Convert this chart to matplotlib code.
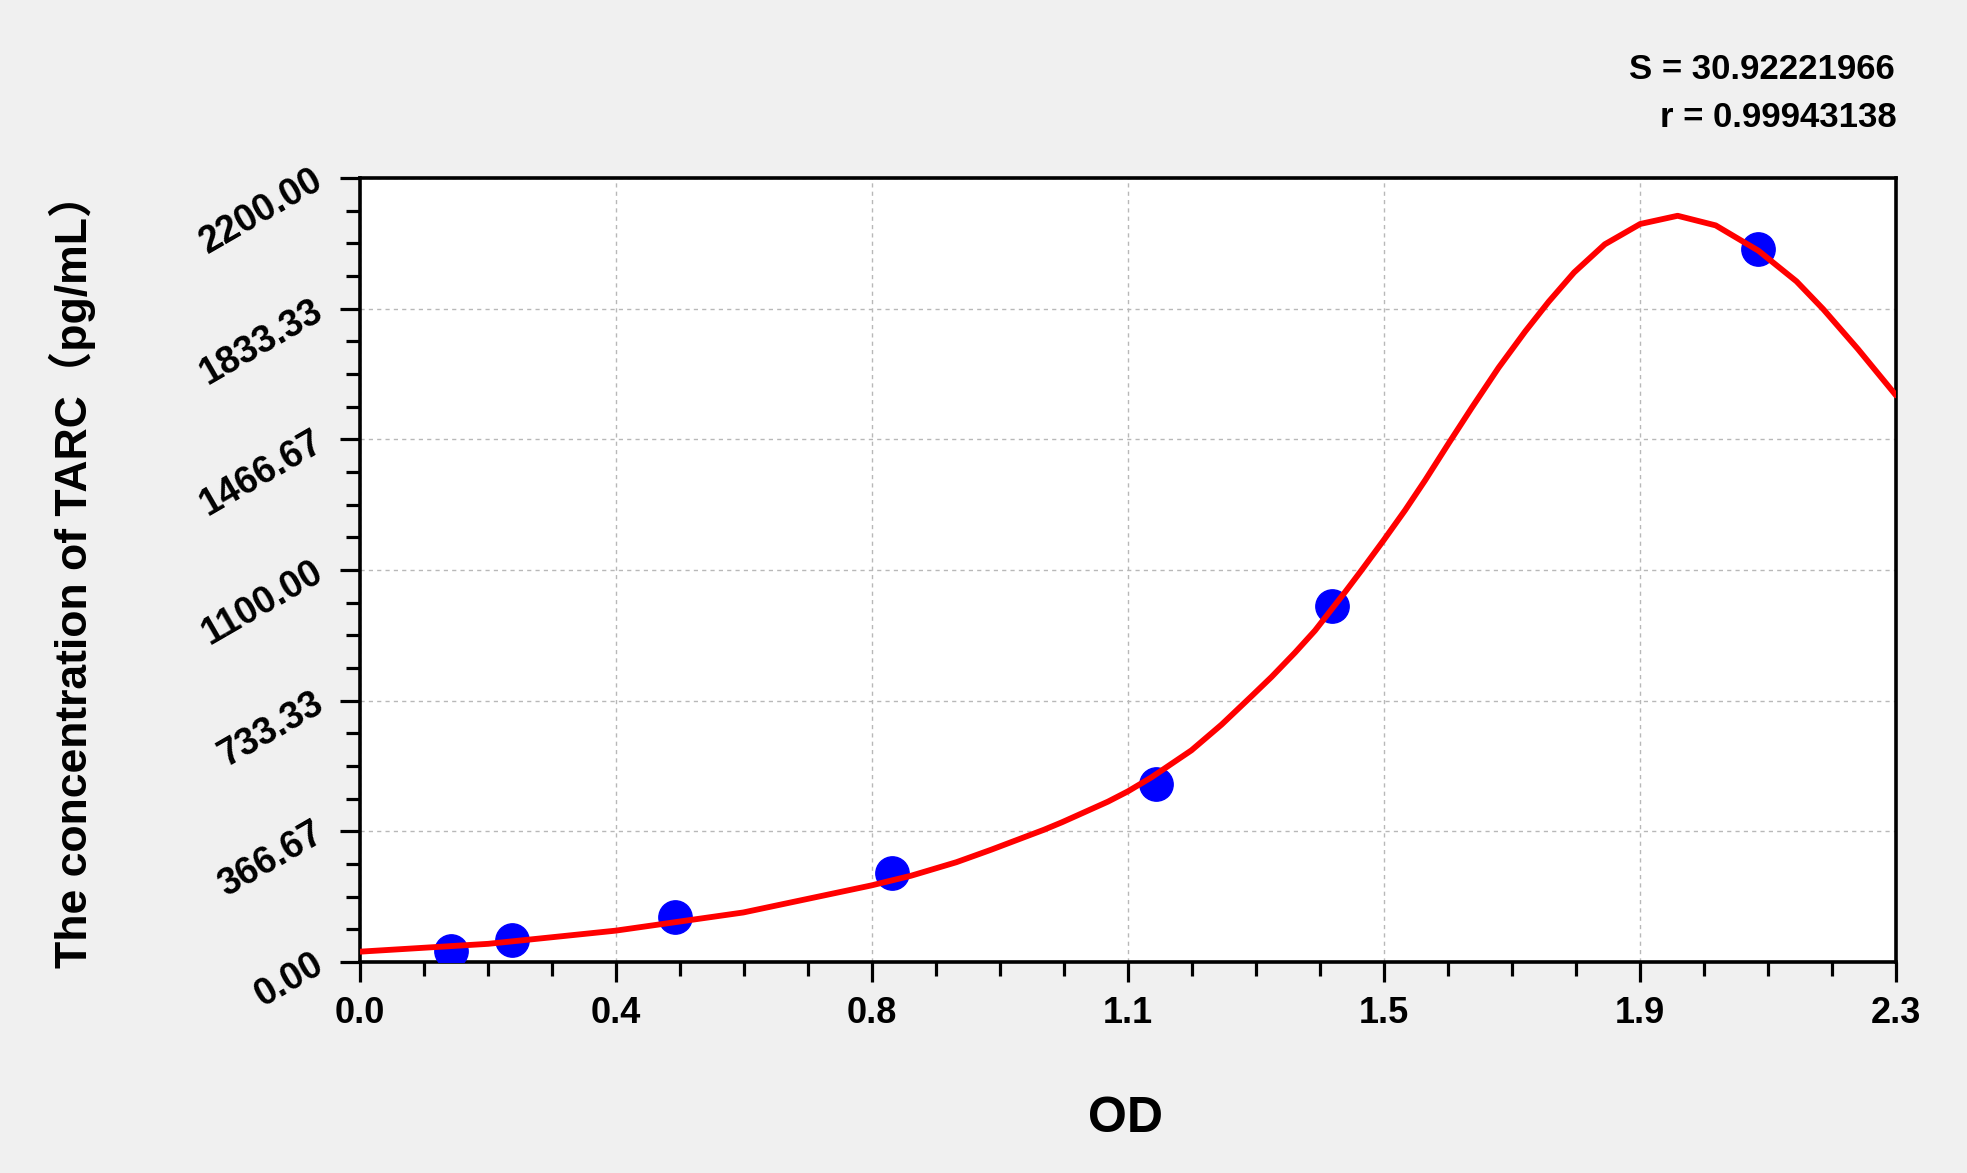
import matplotlib
matplotlib.use('Agg')
import matplotlib.pyplot as plt
from matplotlib.ticker import AutoMinorLocator

# standards (OD vs concentration, pg/mL)
od = [0.136, 0.228, 0.472, 0.797, 1.192, 1.456, 2.094]
conc = [31.25, 62.5, 125, 250, 500, 1000, 2000]

# fitted curve
curve_od = [0.0, 0.192, 0.383, 0.574, 0.766, 0.825, 0.893, 0.945, 1.024, 1.051,
            1.12, 1.15, 1.185, 1.245, 1.29, 1.335, 1.365, 1.40, 1.43, 1.475,
            1.50, 1.533, 1.565, 1.595, 1.63, 1.665, 1.705, 1.745, 1.78, 1.818,
            1.864, 1.917, 1.973, 2.03, 2.094, 2.151, 2.191, 2.243, 2.30]
curve_conc = [29, 51, 88, 139, 215, 242, 280, 315, 371, 392,
              450, 479, 518, 594, 666, 746, 800, 868, 930, 1038,
              1100, 1184, 1268, 1352, 1455, 1556, 1668, 1770, 1853, 1935,
              2014, 2071, 2094, 2067, 1996, 1910, 1832, 1720, 1590]

x_ticks = [0.0, 0.38333, 0.76667, 1.15, 1.53333, 1.91667, 2.3]
x_tick_labels = ['0.0', '0.4', '0.8', '1.1', '1.5', '1.9', '2.3']
y_ticks = [0.0, 366.67, 733.33, 1100.0, 1466.67, 1833.33, 2200.0]
y_tick_labels = ['0.00', '366.67', '733.33', '1100.00', '1466.67', '1833.33', '2200.00']

s_text = 'S = 30.92221966'
r_text = 'r = 0.99943138'

plt.rcParams['font.family'] = ['Liberation Sans', 'Noto Sans CJK SC', 'DejaVu Sans']
plt.rcParams['font.weight'] = 'bold'

fig = plt.figure(figsize=(19.67, 11.73), dpi=100, facecolor='#f0f0f0')
ax = fig.add_axes([360 / 1967, 211 / 1173, 1536 / 1967, 784 / 1173])
ax.set_facecolor('white')

ax.plot(od, conc, 'o', color='#0000ff', markersize=24, zorder=3)
ax.plot(curve_od, curve_conc, color='#ff0000', linewidth=4.2, zorder=4,
        solid_joinstyle='round', solid_capstyle='round')

ax.set_xlim(0, 2.3)
ax.set_ylim(0, 2200)
ax.set_xticks(x_ticks)
ax.set_xticklabels(x_tick_labels, fontsize=26, fontweight='bold')
ax.set_yticks(y_ticks)
ax.set_yticklabels(y_tick_labels, fontsize=27, fontweight='bold',
                   rotation=30, ha='right', va='center', rotation_mode='anchor')
ax.xaxis.set_minor_locator(AutoMinorLocator(4))
ax.yaxis.set_minor_locator(AutoMinorLocator(4))
ax.tick_params(which='major', direction='out', length=14.5, width=2.3, color='black')
ax.tick_params(which='minor', direction='out', length=10, width=2.3, color='black')
ax.tick_params(axis='x', which='major', pad=10)
ax.tick_params(axis='y', which='major', pad=14)

for sp in ax.spines.values():
    sp.set_linewidth(2.6)
    sp.set_color('black')

ax.grid(True, which='major', color='#b8b8b8', linestyle=(0, (3, 3)), linewidth=1.0)
ax.set_axisbelow(True)

fig.text(1126 / 1967, (1173 - 1132) / 1173, 'OD', fontsize=36, fontweight='bold',
         ha='center', va='baseline')
ax.text(-0.1777, 0.5, 'The concentration of TARC（pg/mL）', transform=ax.transAxes,
        fontsize=32, fontweight='bold', rotation=90, ha='center', va='baseline',
        rotation_mode='anchor')

fig.text(1895 / 1967, (1173 - 79) / 1173, s_text, fontsize=25, fontweight='bold',
         ha='right', va='baseline')
fig.text(1897 / 1967, (1173 - 127) / 1173, r_text, fontsize=25, fontweight='bold',
         ha='right', va='baseline')

fig.savefig('out.png', dpi=100, facecolor=fig.get_facecolor())
